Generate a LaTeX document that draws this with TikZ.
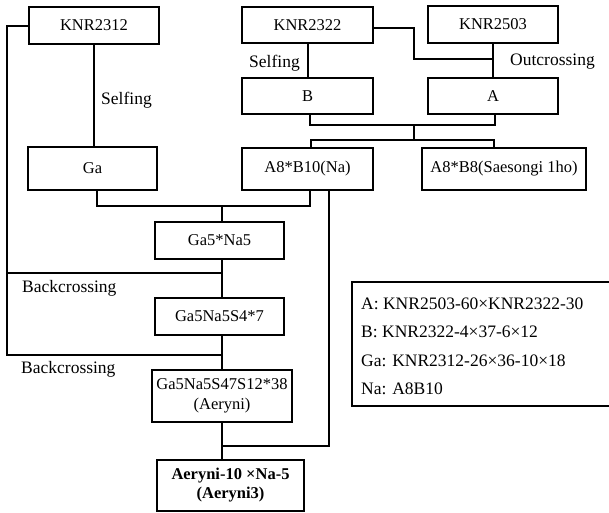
\documentclass[tikz,border=0pt]{standalone}
\usepackage{fontspec}
\setmainfont{Liberation Serif}
\begin{document}
\begin{tikzpicture}[x=1pt,y=-1pt,
  box/.style={draw,line width=1.3pt,inner sep=0pt,align=center,font=\fontsize{16.5}{20}\selectfont},
  conn/.style={line width=2pt},
  lbl/.style={anchor=west,inner sep=0pt,font=\fontsize{17.5}{20}\selectfont}]
\useasboundingbox (0,0) rectangle (609,512);
% boxes
\node[box,minimum width=130,minimum height=37] (k2312) at (94,25.5) {KNR2312};
\node[box,minimum width=131,minimum height=36] (k2322) at (307.5,25) {KNR2322};
\node[box,minimum width=130,minimum height=37] (k2503) at (493,24.5) {KNR2503};
\node[box,minimum width=131,minimum height=36] (B) at (307.5,96) {B};
\node[box,minimum width=130,minimum height=36] (A) at (493,96) {A};
\node[box,minimum width=129,minimum height=43] (Ga) at (92.5,168.5) {Ga};
\node[box,minimum width=131,minimum height=42] (Na) at (307.5,169) {A8*B10(Na)};
\node[box,minimum width=164,minimum height=42] (Sae) at (504,169) {A8*B8(Saesongi 1ho)};
\node[box,minimum width=129,minimum height=37] (G5N5) at (219.5,240.5) {Ga5*Na5};
\node[box,minimum width=129,minimum height=37] (G5N5S) at (219.5,316.5) {Ga5Na5S4*7};
\node[box,minimum width=140,minimum height=52] (Aer) at (222,396) {Ga5Na5S47S12*38\\(Aeryni)};
\node[box,minimum width=147,minimum height=51,font=\fontsize{16.5}{19}\selectfont\bfseries] (Fin) at (230.5,485.5) {Aeryni-10 ×Na-5\\(Aeryni3)};
% junction coordinates
\coordinate (j1) at (222,206);
\coordinate (j3) at (222,446);
\coordinate (b1) at (222,273);
\coordinate (b2) at (222,355);
\coordinate (lft) at (7,25.5);
\coordinate (o1) at (414,59);
\coordinate (m1) at (414,125);
\coordinate (m2) at (414,140);
% connectors
\draw[conn] (k2312.south) -- (k2312.south |- Ga.north);
\draw[conn] (k2312.west) -- (lft) |- (b2);
\draw[conn] (b1 -| lft) -- (b1);
\draw[conn] ([xshift=4]Ga.south) |- (j1);
\draw[conn] ([xshift=2.5]Na.south) |- (j1);
\draw[conn] ([xshift=21.5]Na.south) |- (j3);
\draw[conn] (j1) -- (j1 |- G5N5.north);
\draw[conn] (G5N5.south -| j1) -- (G5N5S.north -| j1);
\draw[conn] (G5N5S.south -| j1) -- (Aer.north -| j1);
\draw[conn] (Aer.south -| j1) -- (Fin.north -| j1);
\draw[conn] (k2322.south) -- (B.north);
\draw[conn] ([yshift=-3]k2322.east) -| (o1) -- (o1 -| k2503.south);
\draw[conn] (k2503.south) -- (A.north);
\draw[conn] ([xshift=2.5]B.south) |- (m1) -| ([xshift=2]A.south);
\draw[conn] (m1) -- (m2);
\draw[conn] ([xshift=3.5]Na.north) |- (m2) -| ([xshift=-10]Sae.north);
% labels
\node[lbl] (s1) at (101,100) {Selfing};
\node[lbl] (s2) at (249,63) {Selfing};
\node[lbl] (oc) at (510,62) {Outcrossing};
\node[lbl] (bc1) at (22,288) {Backcrossing};
\node[lbl] (bc2) at (21,369) {Backcrossing};
% legend
\begin{scope}
\clip (0,0) rectangle (609,512);
\draw[line width=1.3pt] (352,282) rectangle (615,406);
\node[lbl] (l1) at (361,304) {A: KNR2503-60×KNR2322-30};
\node[lbl] (l2) at (361,332) {B: KNR2322-4×37-6×12};
\node[lbl] (l3) at (361,361) {Ga: KNR2312-26×36-10×18};
\node[lbl] (l4) at (361,389) {Na: A8B10};
\end{scope}
\end{tikzpicture}
\end{document}
